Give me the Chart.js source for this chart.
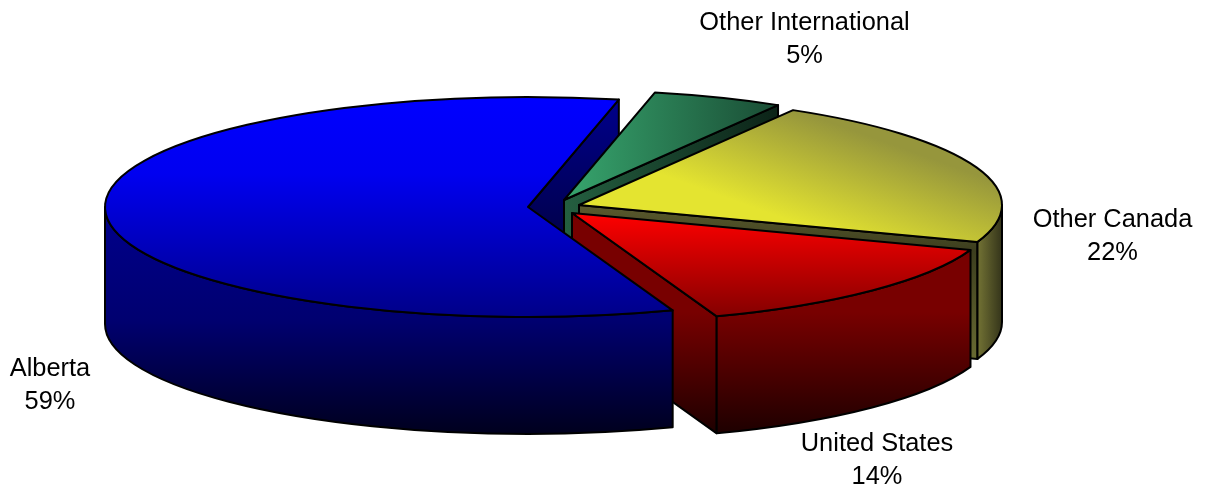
<!DOCTYPE html>
<html>
<head>
<meta charset="utf-8">
<title>Pie</title>
<script src="https://cdn.jsdelivr.net/npm/chart.js@4/dist/chart.umd.js"></script>
<style>
  html, body { margin: 0; background: #fff; }
  canvas { display: block; }
</style>
</head>
<body>
<canvas id="pie-chart" width="1205" height="489"></canvas>
<script>
const categories = ['Alberta', 'Other International', 'Other Canada', 'United States'];
const shares = [59, 5, 22, 14];

// flattening of the disc, pixels
const RADIUS_X = 423;
const RADIUS_Y = 110;
const DEPTH = 117;
const FONT = '25.4px "Liberation Sans", Arial, sans-serif';
const LINE_HEIGHT = 33;

// gradients are given as fractions of the radii, measured from the slice apex
const looks = [
  {
    shift: [-2, 0],
    top: { from: [0, -1], to: [0, 1], stops: [[0, '#0000ff'], [0.35, '#0000f0'], [1, '#000088']] },
    side: { from: [0, 0], to: [0, 2.06], stops: [[0, '#00008c'], [0.5, '#000070'], [1, '#00001e']] },
    wall: { from: [0, -1], to: [0, 0.3], stops: [[0, '#00008c'], [1, '#00004a']] },
    label: [-480, 162],
  },
  {
    shift: [34, -7],
    top: { from: [0, 0], to: [0.5, 0], stops: [[0, '#37a66e'], [1, '#1a4d35']] },
    side: { from: [0, 0], to: [0.5, 0], stops: [[0, '#1f5a3c'], [1, '#1a4d35']] },
    wall: { from: [0, 0], to: [0.5, 0], stops: [[0, '#245f40'], [1, '#0c2418']] },
    label: [274.5, -184],
  },
  {
    shift: [49, -2],
    top: { from: [0.475, 0.11], to: [0.56, -0.8], stops: [[0, '#e4e430'], [1, '#96963c']] },
    side: { from: [0.93, 0], to: [1, 0], stops: [[0, '#80803a'], [1, '#34341a']] },
    wall: { from: [0, 0], to: [0, 1.4], stops: [[0, '#5a5a2d'], [0.3, '#3c3e1e'], [1, '#686a32']] },
    label: [582.5, 13],
  },
  {
    shift: [42, 6],
    top: { from: [0, 0], to: [0, 0.93], stops: [[0, '#ff0000'], [1, '#850000']] },
    side: { from: [0, 0.9], to: [0, 2], stops: [[0, '#780000'], [1, '#1e0000']] },
    wall: { from: [0, 0.9], to: [0, 2], stops: [[0, '#780000'], [1, '#1e0000']] },
    label: [347, 237],
  },
];

function makeGradient(ctx, c, g) {
  const grad = ctx.createLinearGradient(
    c.x + g.from[0] * RADIUS_X, c.y + g.from[1] * RADIUS_Y,
    c.x + g.to[0] * RADIUS_X, c.y + g.to[1] * RADIUS_Y
  );
  g.stops.forEach((s) => grad.addColorStop(s[0], s[1]));
  return grad;
}

function paint(ctx, fill) {
  ctx.fillStyle = fill;
  ctx.fill();
  ctx.stroke();
}

function rimPoint(c, angle) {
  return { x: c.x + Math.cos(angle) * RADIUS_X, y: c.y + Math.sin(angle) * RADIUS_Y };
}

function drawWall(ctx, c, angle, look) {
  const p = rimPoint(c, angle);
  ctx.beginPath();
  ctx.moveTo(c.x, c.y);
  ctx.lineTo(p.x, p.y);
  ctx.lineTo(p.x, p.y + DEPTH);
  ctx.lineTo(c.x, c.y + DEPTH);
  ctx.closePath();
  paint(ctx, makeGradient(ctx, c, look.wall));
}

function drawWalls(ctx, c, arc, look) {
  // a cut face shows only when it turns toward the viewer
  if (Math.cos(arc.startAngle) < 0) {
    drawWall(ctx, c, arc.startAngle, look);
  }
  if (Math.cos(arc.endAngle) > 0) {
    drawWall(ctx, c, arc.endAngle, look);
  }
}

function drawRim(ctx, c, arc, look) {
  [0, Math.PI * 2].forEach((turn) => {
    const lo = Math.max(arc.startAngle, turn);
    const hi = Math.min(arc.endAngle, turn + Math.PI);
    if (lo >= hi) {
      return;
    }
    ctx.beginPath();
    ctx.ellipse(c.x, c.y, RADIUS_X, RADIUS_Y, 0, lo, hi);
    ctx.ellipse(c.x, c.y + DEPTH, RADIUS_X, RADIUS_Y, 0, hi, lo, true);
    ctx.closePath();
    paint(ctx, makeGradient(ctx, c, look.side));
  });
}

function drawTop(ctx, c, arc, look) {
  ctx.beginPath();
  ctx.moveTo(c.x, c.y);
  ctx.ellipse(c.x, c.y, RADIUS_X, RADIUS_Y, 0, arc.startAngle, arc.endAngle);
  ctx.closePath();
  paint(ctx, makeGradient(ctx, c, look.top));
}

const pie3d = {
  id: 'pie3d',
  beforeDatasetDraw(chart) {
    const ctx = chart.ctx;
    const arcs = chart.getDatasetMeta(0).data;
    const centre = (i) => ({ x: arcs[i].x + looks[i].shift[0], y: arcs[i].y + looks[i].shift[1] });

    ctx.save();
    ctx.strokeStyle = '#000';
    ctx.lineWidth = 2;
    ctx.lineJoin = 'round';

    // back to front, Alberta's front goes over the exploded slices
    drawWalls(ctx, centre(0), arcs[0], looks[0]);
    [1, 2, 3].forEach((i) => {
      drawWalls(ctx, centre(i), arcs[i], looks[i]);
      drawRim(ctx, centre(i), arcs[i], looks[i]);
      drawTop(ctx, centre(i), arcs[i], looks[i]);
    });
    drawRim(ctx, centre(0), arcs[0], looks[0]);
    drawTop(ctx, centre(0), arcs[0], looks[0]);

    ctx.fillStyle = '#000';
    ctx.font = FONT;
    ctx.textAlign = 'center';
    ctx.textBaseline = 'middle';
    arcs.forEach((arc, i) => {
      const x = arc.x + looks[i].label[0];
      const y = arc.y + looks[i].label[1];
      ctx.fillText(categories[i], x, y);
      ctx.fillText(shares[i] + '%', x, y + LINE_HEIGHT);
    });
    ctx.restore();
    return false;
  },
};

new Chart(document.getElementById('pie-chart').getContext('2d'), {
  type: 'pie',
  data: {
    labels: categories,
    datasets: [{ data: shares, borderWidth: 0 }],
  },
  options: {
    responsive: false,
    animation: false,
    rotation: 160,
    layout: { padding: { left: 0, top: 0, right: 145, bottom: 75 } },
    plugins: {
      legend: { display: false },
      tooltip: { enabled: false },
    },
  },
  plugins: [pie3d],
});
</script>
</body>
</html>
